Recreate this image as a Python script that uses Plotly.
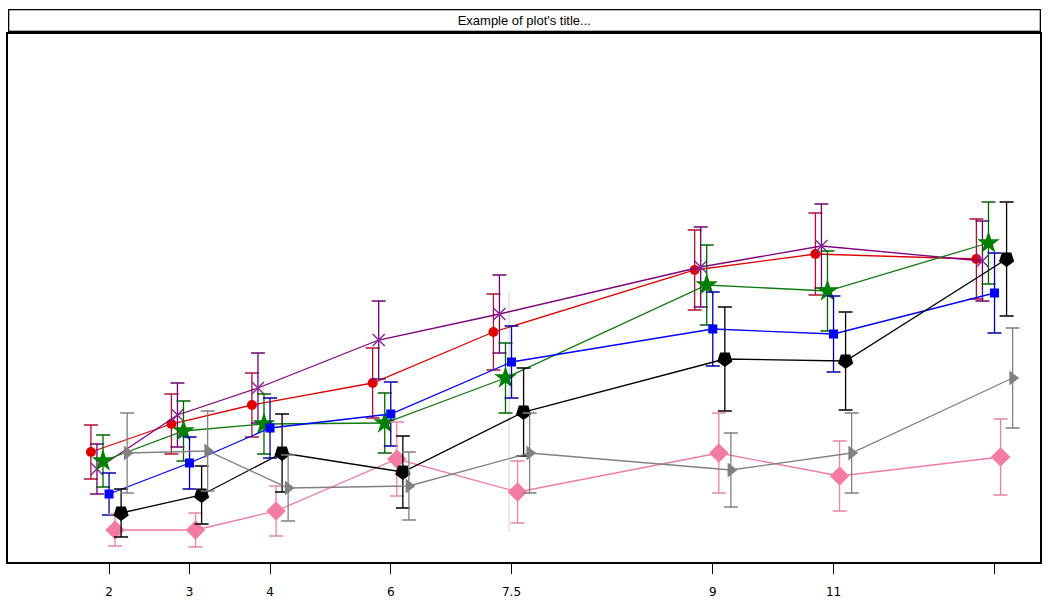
import plotly.graph_objects as go

# category positions on the x axis and their labels
positions = [2, 3, 4, 5.5, 7, 9.5, 11, 13]
tick_labels = ["2", "3", "4", "6", "7.5", "9", "11", ""]

red_y = [11.0, 13.8, 15.7, 17.9, 23.0, 29.2, 30.8, 30.3]
red_err = [2.7, 3.0, 3.2, 3.5, 3.8, 4.0, 4.1, 4.0]

purple_y = [9.3, 14.7, 17.4, 22.2, 24.8, 29.5, 31.6, 30.1]
purple_err = [2.5, 3.2, 3.5, 3.9, 3.9, 4.0, 4.2, 4.0]

green_y = [10.1, 13.1, 13.8, 13.9, 18.4, 27.7, 27.1, 31.9]
green_err = [2.6, 3.0, 3.0, 3.0, 3.5, 4.0, 4.0, 4.1]

blue_y = [6.8, 9.9, 13.4, 14.8, 20.0, 23.3, 22.8, 26.9]
blue_err = [2.1, 2.6, 3.0, 3.2, 3.6, 3.7, 3.8, 4.0]

pink_y = [3.2, 3.2, 5.1, 10.3, 7.0, 10.9, 8.6, 10.5]
pink_err = [1.6, 1.7, 2.5, 3.7, 3.1, 4.0, 3.5, 3.8]

black_y = [4.9, 6.7, 10.9, 9.0, 15.0, 20.3, 20.1, 30.3]
black_err = [2.4, 2.9, 3.9, 3.6, 4.4, 5.2, 4.9, 5.7]

gray_y = [10.9, 11.1, 7.4, 7.6, 10.9, 9.2, 10.9, 18.4]
gray_err = [4.0, 4.0, 3.3, 3.4, 4.0, 3.7, 4.0, 5.0]

series = [
    # name, y, err, offset, line colour, marker colour, err colour, symbol, size, angle
    ("red", red_y, red_err, -3, "#e00000", "#e00000", "#b01030", "circle", 10, 0),
    ("purple", purple_y, purple_err, -2, "#800080", "#8a2a9a", "#700070", "x-thin-open", 12, 0),
    ("green", green_y, green_err, -1, "#117a11", "#008000", "#006400", "star", 17, 0),
    ("blue", blue_y, blue_err, 0, "#0000ff", "#0000ff", "#0000a8", "square", 9, 0),
    ("pink", pink_y, pink_err, 1, "#f07ca4", "#f47ba3", "#e884aa", "diamond", 15, 0),
    ("black", black_y, black_err, 2, "#000000", "#000000", "#000000", "pentagon", 16, 180),
    ("gray", gray_y, gray_err, 3, "#808080", "#808080", "#808080", "triangle-right", 13, 0),
]
step = 0.075

fig = go.Figure()

# faint vertical guide seen near 7.5
fig.add_trace(go.Scatter(
    x=[positions[4] - 0.03], y=[14.95], mode="markers",
    marker=dict(size=1, color="rgba(0,0,0,0)"),
    error_y=dict(type="data", array=[11.95], color="#d0d0d0", thickness=1, width=0),
    showlegend=False, hoverinfo="skip"))

for name, ys, errs, off, lc, mc, ec, sym, sz, ang in series:
    xs = [p + off * step for p in positions]
    if sym == "x-thin-open":
        mk = dict(symbol=sym, size=sz, color=mc, line=dict(color=mc, width=1.5))
    else:
        mk = dict(symbol=sym, size=sz, color=mc, angle=ang, line=dict(width=0))
    fig.add_trace(go.Scatter(
        x=xs, y=ys, mode="lines+markers", name=name,
        line=dict(color=lc, width=1.3),
        marker=mk,
        error_y=dict(type="data", array=errs, color=ec, thickness=1.3, width=7),
        showlegend=False))

# title box
fig.add_annotation(text="Example of plot's title...", xref="paper", yref="paper",
                   x=0.5, y=1.0265, xanchor="center", yanchor="middle",
                   showarrow=False, width=1028, height=18,
                   bordercolor="black", borderwidth=1.3, borderpad=1,
                   bgcolor="white", align="center", valign="middle",
                   font=dict(family="Liberation Sans Narrow, Arial Narrow, sans-serif",
                             size=13, color="black"))

fig.update_layout(
    width=1052, height=613,
    margin=dict(l=8, r=12, t=34, b=51),
    paper_bgcolor="white", plot_bgcolor="white",
    xaxis=dict(range=[0.745, 13.565], tickmode="array", tickvals=positions,
               ticktext=tick_labels, showgrid=False, zeroline=False,
               showline=True, linecolor="black", linewidth=1.8, mirror=True,
               ticks="outside", ticklen=10, tickwidth=1.3, tickcolor="black",
               ticklabelstandoff=8,
               tickfont=dict(family="DejaVu Sans, Verdana, sans-serif", size=12, color="black")),
    yaxis=dict(range=[0, 52.8], showgrid=False, zeroline=False, showticklabels=False,
               showline=True, linecolor="black", linewidth=1.8, mirror=True, ticks=""),
)

fig.write_html("out.html")
